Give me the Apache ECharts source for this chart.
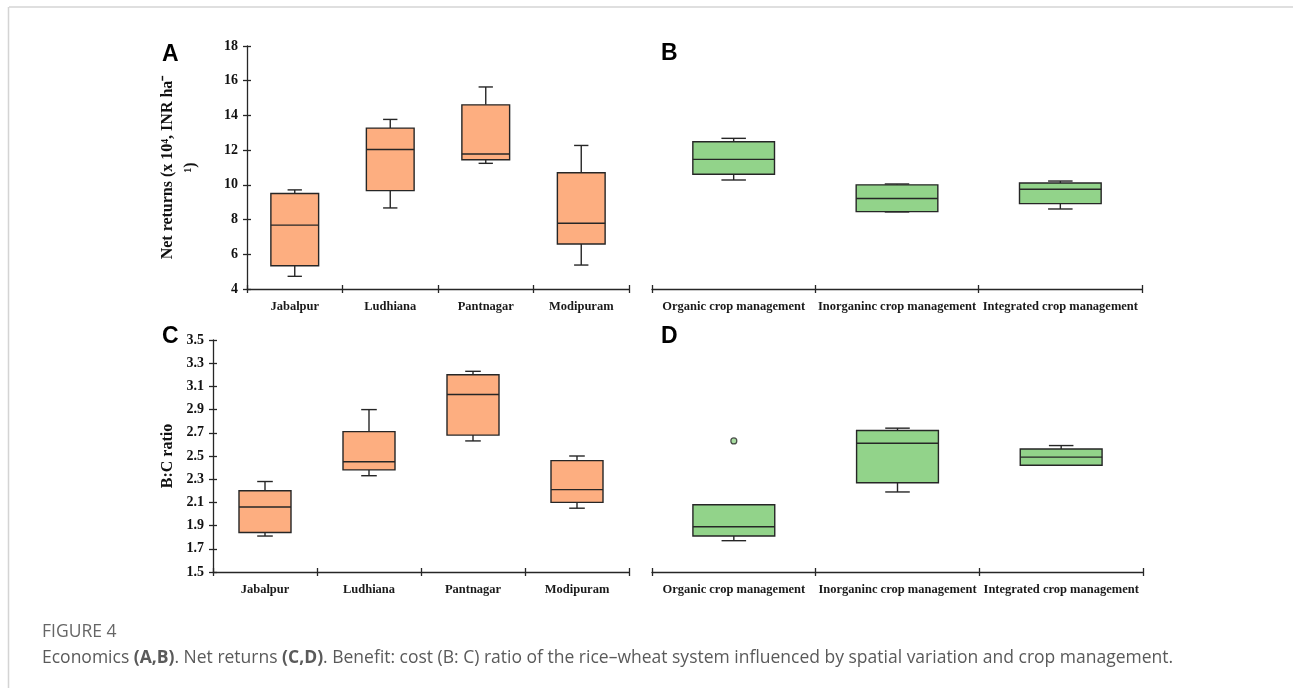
<!DOCTYPE html>
<html><head><meta charset="utf-8">
<script src="https://cdn.jsdelivr.net/npm/echarts@6/dist/echarts.min.js"></script>
<style>html,body{margin:0;padding:0;background:#fff}#c{width:1293px;height:688px}</style>
</head><body><div id="c"></div>
<script>
// ---- data ----
const sites = ['Jabalpur', 'Ludhiana', 'Pantnagar', 'Modipuram'];
const managements = ['Organic crop management', 'Inorganinc crop management', 'Integrated crop management'];
const netRange = [4, 18];
const netStep = 2;
const bcRange = [1.5, 3.5];
const bcStep = 0.2;
// each box: [min, Q1, median, Q3, max]
const netReturnsSite = [
  [4.73, 5.34, 7.68, 9.50, 9.71],
  [8.67, 9.67, 12.04, 13.27, 13.77],
  [11.24, 11.45, 11.78, 14.61, 15.64],
  [5.38, 6.59, 7.79, 10.70, 12.27]
];
const netReturnsMgmt = [
  [10.28, 10.61, 11.47, 12.48, 12.68],
  [8.44, 8.46, 9.21, 10.00, 10.05],
  [8.61, 8.92, 9.75, 10.11, 10.22]
];
const bcRatioSite = [
  [1.81, 1.84, 2.06, 2.20, 2.28],
  [2.33, 2.38, 2.45, 2.71, 2.90],
  [2.63, 2.68, 3.03, 3.20, 3.23],
  [2.05, 2.10, 2.21, 2.46, 2.50]
];
const bcRatioMgmt = [
  [1.77, 1.81, 1.89, 2.08, 2.08],
  [2.19, 2.27, 2.61, 2.72, 2.74],
  [2.42, 2.42, 2.49, 2.56, 2.59]
];
const bcOutliersMgmt = [[0, 2.63]];

// ---- styles ----
const serif = '"Liberation Serif", "Times New Roman", serif';
const ink = '#262626';
const orange = '#FDAE80';
const green = '#92D38A';

function boxRenderer(fill) {
  return function (params, api) {
    const c = api.value(0);
    const v = [1, 2, 3, 4, 5].map(i => api.value(i));
    const band = api.size([1, 0])[0];
    const bw = band * 0.5, cw = bw * 0.3;
    const p = v.map(val => api.coord([c, val]));
    const x = p[0][0];
    const st = { stroke: ink, lineWidth: 1.4, fill: null };
    return {
      type: 'group', children: [
        { type: 'line', shape: { x1: x, y1: p[0][1], x2: x, y2: p[1][1] }, style: st },
        { type: 'line', shape: { x1: x, y1: p[3][1], x2: x, y2: p[4][1] }, style: st },
        { type: 'line', shape: { x1: x - cw / 2, y1: p[0][1], x2: x + cw / 2, y2: p[0][1] }, style: st },
        { type: 'line', shape: { x1: x - cw / 2, y1: p[4][1], x2: x + cw / 2, y2: p[4][1] }, style: st },
        { type: 'rect', shape: { x: x - bw / 2, y: p[3][1], width: bw, height: p[1][1] - p[3][1] },
          style: { fill: fill, stroke: ink, lineWidth: 1.4 } },
        { type: 'line', shape: { x1: x - bw / 2, y1: p[2][1], x2: x + bw / 2, y2: p[2][1] }, style: st }
      ]
    };
  };
}

function catAxes(grid, data) {
  return [
    { type: 'category', gridIndex: grid, position: 'bottom', data: data, boundaryGap: true,
      axisLine: { show: true, lineStyle: { color: ink, width: 1.3 } },
      axisTick: { show: true, alignWithLabel: false, interval: 0, length: 4, lineStyle: { color: ink, width: 1.3 } },
      axisLabel: { fontFamily: serif, fontWeight: 'bold', fontSize: 12.5, color: '#1a1a1a', margin: 11, interval: 0 },
      splitLine: { show: false } },
    { type: 'category', gridIndex: grid, position: 'bottom', data: data, boundaryGap: true,
      axisLine: { show: false },
      axisTick: { show: true, alignWithLabel: false, interval: 0, inside: true, length: 4, lineStyle: { color: ink, width: 1.3 } },
      axisLabel: { show: false }, splitLine: { show: false } }
  ];
}
function valAxes(grid, range, step, name, gap) {
  return [
    { type: 'value', gridIndex: grid, position: 'left', min: range[0], max: range[1], interval: step,
      axisLine: { show: true, lineStyle: { color: ink, width: 1.3 } },
      axisTick: { show: true, length: 4, lineStyle: { color: ink, width: 1.3 } },
      axisLabel: { fontFamily: serif, fontWeight: 'bold', fontSize: 14, color: '#111', margin: 9,
        formatter: v => step < 1 ? v.toFixed(1) : String(v) },
      splitLine: { show: false },
      name: name, nameLocation: 'middle', nameRotate: 90, nameGap: gap,
      nameTextStyle: { fontFamily: serif, fontWeight: 'bold', fontSize: 16, color: '#111', lineHeight: 23,
        rich: { t: { fontFamily: serif, fontWeight: 'bold', fontSize: 16, color: '#111', lineHeight: 23 } } } },
    { type: 'value', gridIndex: grid, position: 'left', min: range[0], max: range[1], interval: step,
      axisLine: { show: false },
      axisTick: { show: true, inside: true, length: 4, lineStyle: { color: ink, width: 1.3 } },
      axisLabel: { show: false }, splitLine: { show: false } }
  ];
}
function hiddenY(grid, range) {
  return { type: 'value', gridIndex: grid, min: range[0], max: range[1], show: false, splitLine: { show: false } };
}

const letterStyle = { fontFamily: '"Liberation Sans", Arial, sans-serif', fontWeight: 'bold', fontSize: 23, color: '#000' };
const capFont = '"Open Sans", "Noto Sans", sans-serif';

const option = {
  animation: false,
  backgroundColor: '#fff',
  title: [
    { text: 'A', left: 162, top: 43, padding: 0, textStyle: letterStyle },
    { text: 'B', left: 661, top: 42, padding: 0, textStyle: letterStyle },
    { text: 'C', left: 162, top: 325, padding: 0, textStyle: letterStyle },
    { text: 'D', left: 661, top: 325, padding: 0, textStyle: letterStyle }
  ],
  grid: [
    { left: 247, top: 46, width: 382, height: 243 },
    { left: 652, top: 46, width: 490, height: 243 },
    { left: 213, top: 340, width: 416, height: 232 },
    { left: 652, top: 340, width: 491, height: 232 }
  ],
  xAxis: [].concat(catAxes(0, sites), catAxes(1, managements), catAxes(2, sites), catAxes(3, managements)),
  yAxis: [].concat(
    valAxes(0, netRange, netStep, '{t|Net returns (x 10⁴, INR ha⁻}\n{t|¹)}', 45),
    [hiddenY(1, netRange)],
    valAxes(2, bcRange, bcStep, '{t|B:C ratio}', 34),
    [hiddenY(3, bcRange)]
  ),
  series: [
    { type: 'custom', xAxisIndex: 0, yAxisIndex: 0, renderItem: boxRenderer(orange),
      data: netReturnsSite.map((d, i) => [i].concat(d)) },
    { type: 'custom', xAxisIndex: 2, yAxisIndex: 2, renderItem: boxRenderer(green),
      data: netReturnsMgmt.map((d, i) => [i].concat(d)) },
    { type: 'custom', xAxisIndex: 4, yAxisIndex: 3, renderItem: boxRenderer(orange),
      data: bcRatioSite.map((d, i) => [i].concat(d)) },
    { type: 'custom', xAxisIndex: 6, yAxisIndex: 5, renderItem: boxRenderer(green),
      data: bcRatioMgmt.map((d, i) => [i].concat(d)) },
    { type: 'scatter', xAxisIndex: 6, yAxisIndex: 5, symbol: 'circle', symbolSize: 6,
      itemStyle: { color: green, borderColor: ink, borderWidth: 1.2 }, data: bcOutliersMgmt }
  ],
  graphic: [
    { type: 'line', shape: { x1: 9, y1: 7, x2: 1293, y2: 7 }, style: { stroke: '#d4d4d4', lineWidth: 1.5 } },
    { type: 'line', shape: { x1: 8.5, y1: 7, x2: 8.5, y2: 688 }, style: { stroke: '#d4d4d4', lineWidth: 1.5 } },
    { type: 'text', left: 42, top: 623, style: { text: 'FIGURE 4', fontFamily: capFont, fontSize: 17.5, fill: '#666' } },
    { type: 'text', left: 42, top: 649, style: {
        text: 'Economics {b|(A,B)}. Net returns {b|(C,D)}. Benefit: cost (B: C) ratio of the rice–wheat system influenced by spatial variation and crop management.',
        fontFamily: capFont, fontSize: 17.5, fill: '#5a5a5a',
        rich: { b: { fontFamily: capFont, fontSize: 17.5, fontWeight: 'bold', fill: '#5a5a5a' } } } }
  ]
};
echarts.init(document.getElementById('c')).setOption(option);
</script>
</body></html>
